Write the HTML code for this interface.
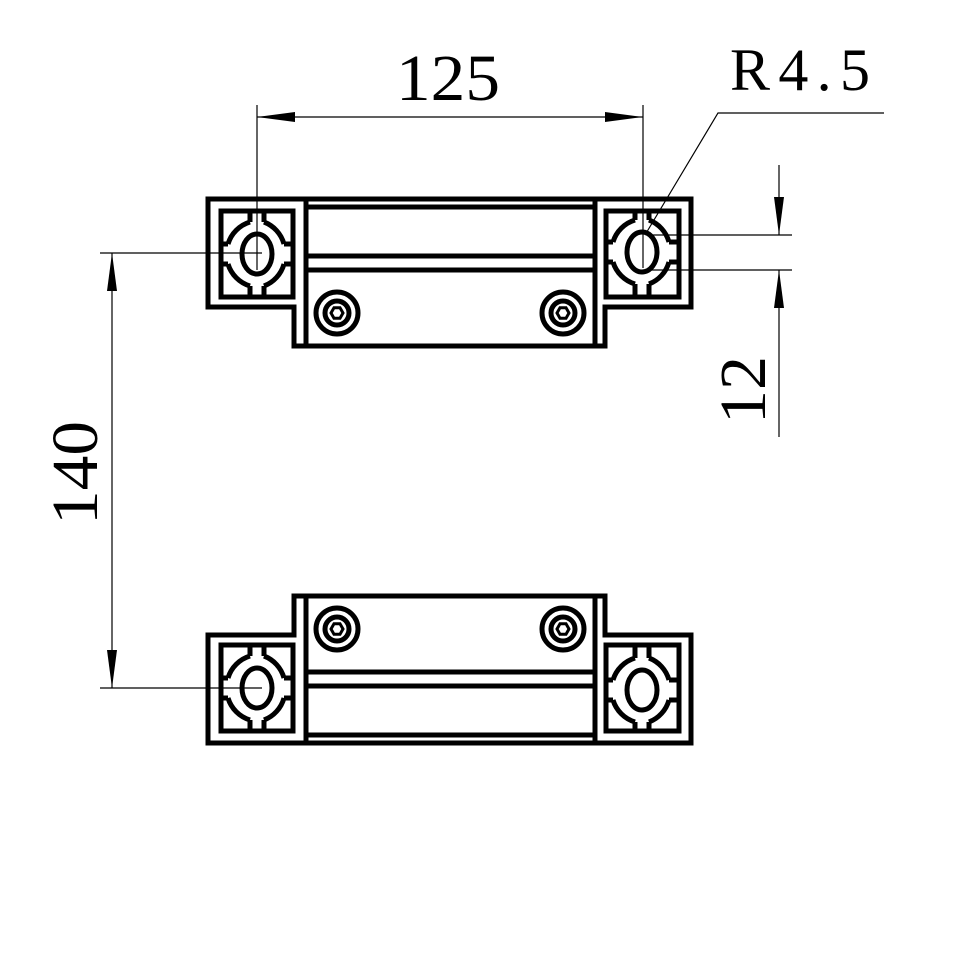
<!DOCTYPE html>
<html><head><style>body{margin:0;background:#fff}svg{display:block}</style></head>
<body>
<svg width="954" height="976" viewBox="0 0 954 976" xmlns="http://www.w3.org/2000/svg">
<defs>
<g id="part" fill="none" stroke="#000">
  <path d="M208 199 H691 V307 H605 V346 H294 V307 H208 Z" stroke-width="5"/>
  <line x1="306" y1="199" x2="306" y2="346" stroke-width="5"/>
  <line x1="595" y1="199" x2="595" y2="346" stroke-width="5"/>
  <line x1="306" y1="207" x2="595" y2="207" stroke-width="5"/>
  <line x1="306" y1="256" x2="595" y2="256" stroke-width="5"/>
  <line x1="306" y1="270" x2="595" y2="270" stroke-width="5"/>
  <rect x="221" y="211" width="72" height="86" stroke-width="5"/>
  <rect x="606" y="211" width="73" height="86" stroke-width="5"/>
  <g id="hole" stroke-width="5">
    <ellipse cx="257" cy="254" rx="15" ry="20"/>
    <path d="M250 222 A33 33 0 0 0 228 244 M264 222 A33 33 0 0 1 284 244 M228 264 A33 33 0 0 0 250 286 M284 264 A33 33 0 0 1 264 286"/>
    <path d="M250 211 V222 M264 211 V222 M250 286 V297 M264 286 V297 M221 244 H228 M221 264 H228 M284 244 H293 M284 264 H293"/>
  </g>
  <use href="#hole" transform="translate(385,-2)"/>
  <circle cx="337" cy="313" r="21" stroke-width="5"/>
  <circle cx="337" cy="313" r="12" stroke-width="5"/>
  <polygon points="343,313 340,318.2 334,318.2 331,313 334,307.8 340,307.8" stroke-width="3"/>
  <circle cx="563" cy="313" r="21" stroke-width="5"/>
  <circle cx="563" cy="313" r="12" stroke-width="5"/>
  <polygon points="569,313 566,318.2 560,318.2 557,313 560,307.8 566,307.8" stroke-width="3"/>
</g>
</defs>
<use href="#part"/>
<use href="#part" transform="translate(0,942) scale(1,-1)"/>
<g stroke="#000" stroke-width="1.2" fill="none">
  <line x1="257" y1="105" x2="257" y2="270"/>
  <line x1="643" y1="105" x2="643" y2="268"/>
  <line x1="257" y1="117" x2="643" y2="117"/>
  <line x1="100" y1="253" x2="262" y2="253"/>
  <line x1="100" y1="688" x2="262" y2="688"/>
  <line x1="112" y1="253" x2="112" y2="688"/>
  <line x1="648" y1="235" x2="792" y2="235"/>
  <line x1="648" y1="270" x2="792" y2="270"/>
  <line x1="779" y1="165" x2="779" y2="235"/>
  <line x1="779" y1="270" x2="779" y2="437"/>
  <polyline points="645,235 718,113 884,113"/>
</g>
<g fill="#000">
  <polygon points="257,117 295,112 295,122"/>
  <polygon points="643,117 605,112 605,122"/>
  <polygon points="112,253 107,291 117,291"/>
  <polygon points="112,688 107,650 117,650"/>
  <polygon points="779,235 774,197 784,197"/>
  <polygon points="779,270 774,308 784,308"/>
</g>
<g font-family="Liberation Serif, serif" fill="#000">
  <text x="396" y="100" font-size="66" textLength="104" lengthAdjust="spacingAndGlyphs">125</text>
  <text x="730" y="90" font-size="60" textLength="140" lengthAdjust="spacing">R4.5</text>
  <text transform="translate(97,525) rotate(-90)" font-size="66" textLength="104" lengthAdjust="spacingAndGlyphs">140</text>
  <text transform="translate(765,424) rotate(-90)" font-size="66" textLength="68" lengthAdjust="spacingAndGlyphs">12</text>
</g>
</svg>
</body></html>
